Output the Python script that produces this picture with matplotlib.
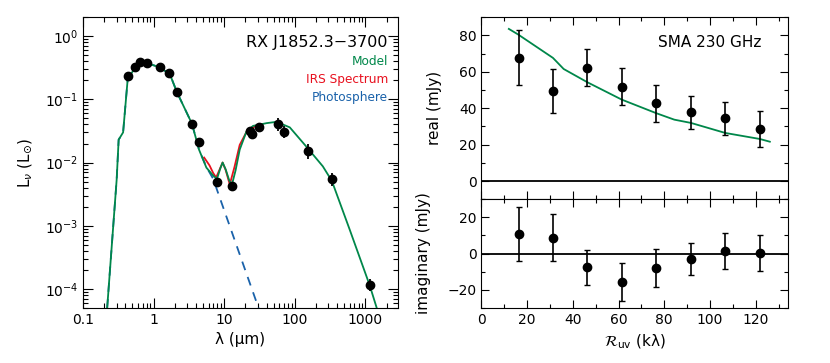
import numpy as np
import matplotlib
matplotlib.use("Agg")
import matplotlib.pyplot as plt
from matplotlib.ticker import FixedLocator, NullFormatter, MultipleLocator, LogLocator

plt.rcParams['font.family'] = ['DejaVu Sans']
plt.rcParams['mathtext.fontset'] = 'dejavusans'

GREEN = '#00874a'
RED = '#e8101e'
BLUE = '#1a62aa'

# SED photometry
sed_wl = [0.44, 0.54, 0.65, 0.80, 1.22, 1.65, 2.14, 3.5, 4.4, 7.9, 12.9,
          23.5, 24.8, 31.6, 58.6, 69.7, 152, 336, 1160]
sed_L = [0.23, 0.33, 0.39, 0.37, 0.32, 0.26, 0.13, 0.041, 0.021, 0.0049, 0.0043,
         0.031, 0.028, 0.037, 0.040, 0.030, 0.015, 0.0054, 1.15e-4]
sed_err_lo = [0, 0, 0, 0, 0, 0, 0, 0, 0, 0, 0,
              0, 0, 0, 0.008, 0.006, 0.0038, 0.0011, 2.3e-5]
sed_err_hi = [0, 0, 0, 0, 0, 0, 0, 0, 0, 0, 0,
              0, 0, 0, 0.010, 0.008, 0.005, 0.0014, 2.8e-5]

# model SED
model_wl = [0.22, 0.30, 0.32, 0.37, 0.43, 0.64, 1.22, 1.7, 2.14, 3.5, 4.4, 5.6, 7.0, 7.9,
            8.8, 9.5, 10.5, 11.8, 12.9, 14.5, 16.6, 20.7, 25.7, 40, 55, 85, 145, 250,
            336, 600, 1150, 1450]
model_L = [5e-5, 0.0054, 0.023, 0.030, 0.21, 0.41, 0.32, 0.25, 0.13, 0.041, 0.016,
           0.0083, 0.0062, 0.0055, 0.0080, 0.010, 0.0078, 0.0052, 0.0045, 0.0075, 0.016,
           0.031, 0.038, 0.042, 0.044, 0.036, 0.018, 0.0087, 0.0051, 8.7e-4, 1.15e-4, 5e-5]

# IRS spectrum
irs_wl = [5.2, 6.2, 7.0, 7.7, 8.8, 9.5, 10.5, 12.0, 14.0, 16.6, 21.5, 28.5, 35]
irs_L = [0.0120, 0.0090, 0.0068, 0.0058, 0.0082, 0.010, 0.0076, 0.0045, 0.0085, 0.019,
         0.033, 0.038, 0.040]

# photosphere
phot_wl = [0.22, 0.30, 0.32, 0.37, 0.43, 0.64, 1.22, 1.7, 2.14, 3.5, 4.4, 5.6, 7.0, 8.2, 35]
phot_L = [5e-5, 0.0054, 0.023, 0.030, 0.21, 0.41, 0.32, 0.25, 0.13, 0.041, 0.016,
          0.0085, 0.0055, 0.0033, 3.3e-5]

# SMA visibilities
uv = [16.3, 31.4, 46.4, 61.4, 76.6, 91.7, 106.7, 121.8]
real = [67.7, 49.6, 62.3, 51.8, 42.6, 37.7, 34.4, 28.6]
real_err = [15, 12, 10, 10, 10.3, 9, 9, 10]
imag = [11, 8.8, -7.7, -15.7, -8.2, -3, 1.5, 0.5]
imag_err = [15, 13, 9.5, 10.5, 10.5, 9, 10, 10]
vis_model_uv = [12, 16, 31.3, 36, 46.4, 61.4, 76.6, 84.4, 91.7, 106.7, 121.8, 126.2]
vis_model_re = [83.5, 80.5, 67.6, 61.5, 54.2, 44.7, 37.2, 33.7, 31.9, 26.4, 23.1, 21.6]

fig = plt.figure(figsize=(8.3, 3.63), dpi=100)

# ---- SED panel
ax = fig.add_axes([0.100, 0.1515, 0.3795, 0.8015])
ax.set_xscale('log')
ax.set_yscale('log')
ax.plot(phot_wl, phot_L, color=BLUE, lw=1.3, ls=(0, (5, 4)))
ax.plot(irs_wl, irs_L, color=RED, lw=1.3)
ax.plot(model_wl, model_L, color=GREEN, lw=1.3)
ax.errorbar(sed_wl, sed_L, yerr=[sed_err_lo, sed_err_hi], fmt='o', color='black',
            ms=6, elinewidth=1.3, capsize=0, zorder=5)
ax.set_xlim(0.1, 2900)
ax.set_ylim(5e-5, 2)
ax.xaxis.set_major_locator(FixedLocator([0.1, 1, 10, 100, 1000]))
ax.set_xticklabels(['0.1', '1', '10', '100', '1000'])
ax.xaxis.set_minor_locator(LogLocator(base=10, subs=np.arange(2, 10)))
ax.xaxis.set_minor_formatter(NullFormatter())
ax.yaxis.set_major_locator(LogLocator(base=10, numticks=10))
ax.yaxis.set_minor_locator(LogLocator(base=10, subs=np.arange(2, 10), numticks=10))
ax.yaxis.set_minor_formatter(NullFormatter())
ax.tick_params(which='both', direction='in', top=True, right=True, labelsize=10, width=0.8)
ax.tick_params(which='major', length=7)
ax.tick_params(which='minor', length=3.5)
ax.set_xlabel('λ (μm)', fontsize=11)
ax.set_ylabel(r'L$_\nu$ (L$_{\odot}$)', fontsize=11, labelpad=8)
ax.text(0.968, 0.912, 'RX J1852.3−3700', transform=ax.transAxes, ha='right', va='center', fontsize=11.5)
ax.text(0.968, 0.848, 'Model', transform=ax.transAxes, ha='right', va='center', fontsize=8.7, color=GREEN)
ax.text(0.968, 0.784, 'IRS Spectrum', transform=ax.transAxes, ha='right', va='center', fontsize=8.7, color=RED)
ax.text(0.968, 0.722, 'Photosphere', transform=ax.transAxes, ha='right', va='center', fontsize=8.7, color=BLUE)

# ---- visibility panels
ax1 = fig.add_axes([0.580, 0.451, 0.369, 0.502])
ax2 = fig.add_axes([0.580, 0.1523, 0.369, 0.2987], sharex=ax1)

ax1.axhline(0, color='black', lw=1.3)
ax1.plot(vis_model_uv, vis_model_re, color=GREEN, lw=1.3)
ax1.errorbar(uv, real, yerr=real_err, fmt='o', color='black', ms=6,
             elinewidth=1.2, capsize=2, capthick=1.0, zorder=5)
ax1.set_ylim(-10, 90)
ax1.yaxis.set_major_locator(MultipleLocator(20))
ax1.yaxis.set_minor_locator(MultipleLocator(10))
ax1.set_ylabel('real (mJy)', fontsize=11, labelpad=12)
ax1.text(0.914, 0.859, 'SMA 230 GHz', transform=ax1.transAxes, ha='right', va='center', fontsize=11)
plt.setp(ax1.get_xticklabels(), visible=False)

ax2.axhline(0, color='black', lw=1.3)
ax2.errorbar(uv, imag, yerr=imag_err, fmt='o', color='black', ms=6,
             elinewidth=1.2, capsize=2, capthick=1.0, zorder=5)
ax2.set_ylim(-30, 30)
ax2.yaxis.set_major_locator(MultipleLocator(20))
ax2.yaxis.set_minor_locator(MultipleLocator(10))
ax2.set_ylabel('imaginary (mJy)', fontsize=11, labelpad=12)
ax2.set_xlim(0, 134)
ax2.xaxis.set_major_locator(MultipleLocator(20))
ax2.xaxis.set_minor_locator(MultipleLocator(10))
ax2.set_xlabel(r'$\mathcal{R}_{\rm uv}$ (kλ)', fontsize=11)

for a in (ax1, ax2):
    a.tick_params(which='both', direction='in', top=True, right=True, labelsize=10, width=0.8)
    a.tick_params(which='major', length=6)
    a.tick_params(which='minor', length=3)
fig.align_ylabels([ax1, ax2])

fig.savefig('out.png', dpi=100)
